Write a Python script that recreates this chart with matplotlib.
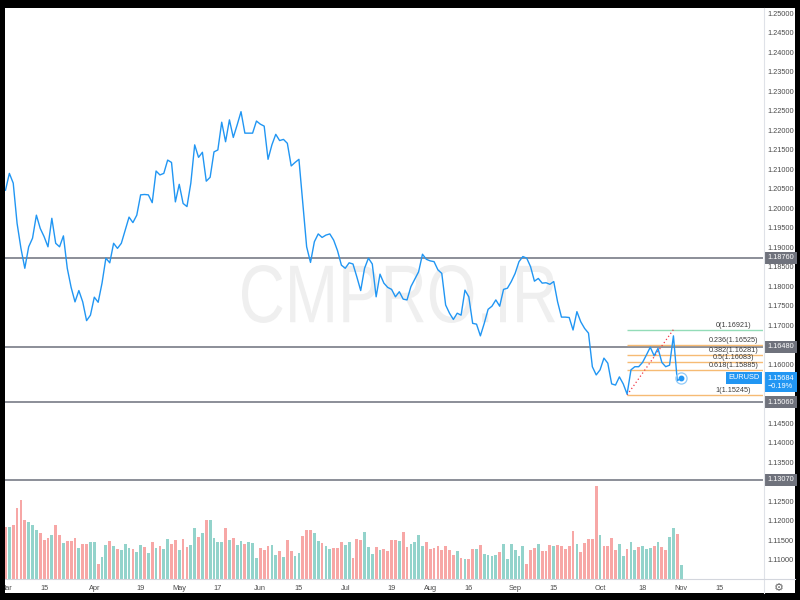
import numpy as np
import pandas as pd
import matplotlib
matplotlib.use('Agg')
import matplotlib.pyplot as plt
from matplotlib.patches import Rectangle, PathPatch
from matplotlib.lines import Line2D
from matplotlib.textpath import TextPath
from matplotlib.font_manager import FontProperties
from matplotlib.transforms import Affine2D, blended_transform_factory

plt.rcParams['font.family'] = ['Liberation Sans', 'DejaVu Sans']

# EURUSD daily closes, one per trading day from 2021-03-01
close = [
    1.2049, 1.2092, 1.2067, 1.1964, 1.1900, 1.1849, 1.1904, 1.1926, 1.1985, 1.1951,
    1.1930, 1.1904, 1.1977, 1.1913, 1.1904, 1.1932, 1.1849, 1.1800, 1.1763, 1.1792,
    1.1763, 1.1715, 1.1729, 1.1775, 1.1762, 1.1811, 1.1875, 1.1863, 1.1913, 1.1900,
    1.1913, 1.1947, 1.1980, 1.1966, 1.1985, 1.2037, 1.2038, 1.2037, 1.2017, 1.2098,
    1.2088, 1.2092, 1.2126, 1.2120, 1.2019, 1.2064, 1.2015, 1.2007, 1.2067, 1.2165,
    1.2133, 1.2146, 1.2072, 1.2082, 1.2147, 1.2152, 1.2223, 1.2173, 1.2229, 1.2184,
    1.2216, 1.2250, 1.2195, 1.2195, 1.2195, 1.2226, 1.2218, 1.2213, 1.2128, 1.2165,
    1.2192, 1.2176, 1.2179, 1.2169, 1.2111, 1.2120, 1.2128, 1.2015, 1.1904, 1.1864,
    1.1917, 1.1937, 1.1928, 1.1934, 1.1937, 1.1921, 1.1894, 1.1857, 1.1849, 1.1863,
    1.1860, 1.1827, 1.1792, 1.1849, 1.1875, 1.1860, 1.1776, 1.1834, 1.1811, 1.1800,
    1.1795, 1.1776, 1.1789, 1.1770, 1.1768, 1.1802, 1.1821, 1.1840, 1.1885, 1.1872,
    1.1868, 1.1866, 1.1845, 1.1836, 1.1755, 1.1734, 1.1718, 1.1734, 1.1729, 1.1793,
    1.1776, 1.1708, 1.1706, 1.1676, 1.1708, 1.1744, 1.1752, 1.1768, 1.1752, 1.1795,
    1.1798, 1.1815, 1.1836, 1.1866, 1.1879, 1.1875, 1.1853, 1.1816, 1.1823, 1.1811,
    1.1812, 1.1808, 1.1815, 1.1763, 1.1724, 1.1724, 1.1723, 1.1691, 1.1738, 1.1712,
    1.1695, 1.1683, 1.1597, 1.1576, 1.1589, 1.1619, 1.1606, 1.1553, 1.1550, 1.1571,
    1.1553, 1.1527, 1.1589, 1.1597, 1.1597, 1.1608, 1.1627, 1.1647, 1.1625, 1.1644,
    1.1608, 1.1597, 1.1601, 1.1676, 1.1561, 1.15684,
]

# tick volume (arbitrary units) and bar direction (u = up, d = down)
volume = [
    155, 157, 163, 213, 236, 178, 170, 163, 148, 138,
    118, 123, 133, 163, 133, 108, 113, 115, 123, 93,
    105, 105, 111, 111, 45, 65, 103, 113, 98, 91,
    88, 106, 93, 91, 81, 101, 96, 78, 111, 93,
    100, 90, 121, 106, 116, 86, 121, 96, 103, 153,
    125, 138, 178, 176, 123, 110, 110, 153, 116, 123,
    101, 115, 106, 110, 108, 63, 93, 88, 100, 103,
    71, 85, 66, 116, 83, 70, 78, 130, 147, 147,
    138, 115, 108, 98, 91, 94, 94, 111, 103, 111,
    63, 121, 118, 141, 95, 75, 96, 88, 91, 83,
    116, 118,
    115, 141, 96, 105, 110, 133, 98, 110, 90, 93,
    100, 86, 100, 86, 73, 83, 63, 61, 61, 90,
    90, 101, 75, 73, 68, 73, 82, 106, 60, 106,
    86, 68, 98, 45, 88, 93, 106, 85, 85, 103,
    98, 103, 98, 91, 98, 143, 106, 81, 108, 121,
    121, 278, 133, 100, 100, 123, 88, 106, 68, 91,
    110, 88, 96, 100, 91, 93, 98, 111, 96, 86,
    125, 153, 136, 41,
]
vol_dir = ("dudddduuud" "dduddudddu" "dduuduudud" "uuuduududu" "duuddudduu"
           "duduuuudud" "uuduuudddu" "ududduuddd" "uuduuddduu" "ddduuududd"
           "dd"
           "udduuuuddd" "dddddududd" "uduuuuduuu" "uuuddduddd" "uddddduddd"
           "ddudddduud" "uuduuududd" "uudu")

dates = pd.bdate_range('2021-03-01', periods=len(close))
axis_days = pd.bdate_range('2021-03-01', '2021-12-31')
tick_dates = ['2021-03-01', '2021-03-15', '2021-04-01', '2021-04-19', '2021-05-03',
              '2021-05-17', '2021-06-01', '2021-06-15', '2021-07-01', '2021-07-19',
              '2021-08-02', '2021-08-16', '2021-09-01', '2021-09-15', '2021-10-01',
              '2021-10-18', '2021-11-01', '2021-11-15']
tick_labels = ['Mar', '15', 'Apr', '19', 'May', '17', 'Jun', '15', 'Jul', '19',
               'Aug', '16', 'Sep', '15', 'Oct', '18', 'Nov', '15']

# horizontal support / resistance lines
h_levels = [1.18760, 1.16480, 1.15060, 1.13070]

# fibonacci retracement from the Oct 12 low to the Oct 28 high
fib_low, fib_high = 1.15245, 1.16921
fib_start, fib_end = '2021-10-12', '2021-10-28'
fib_ratios = [0, 0.236, 0.382, 0.5, 0.618, 1]

symbol = 'EURUSD'
last_price = 1.15684
last_change = '\u22120.19%'

BLUE = '#2196f3'
GREY_BOX = '#6f727c'
TXT = '#4a4a4a'

fig = plt.figure(figsize=(8, 6), dpi=100, facecolor='black')
fig.add_artist(Rectangle((5 / 800, 7 / 600), 790 / 800, 585 / 600,
                         transform=fig.transFigure, facecolor='white',
                         edgecolor='none', zorder=-10))

ax = fig.add_axes([5 / 800, 21 / 600, 758 / 800, 571 / 600])
ax.set_xlim(-0.13, 196.2)
ax.set_ylim(1.10535, 1.25154)
for s in ax.spines.values():
    s.set_visible(False)

# watermark, squeezed to the shape seen in the screenshot
tp = TextPath((0, 0), 'CMPRO.IR', size=100,
              prop=FontProperties(family='Liberation Sans'))
bb = tp.get_extents()
wm_tr = (Affine2D().translate(-bb.x0, -bb.y0)
         .scale(313 / bb.width, 58 / bb.height)
         .translate(242, 277)
         .scale(1 / 800, 1 / 600) + fig.transFigure)
ax.add_patch(PathPatch(tp, transform=wm_tr, facecolor='#efefef',
                       edgecolor='none', zorder=0))

x = np.arange(len(close))

# volume overlay at the bottom of the pane
vax = ax.twinx()
vax.set_ylim(0, 1713)
vax.axis('off')
vcolors = ['#93d3cb' if c == 'u' else '#f7a7a6' for c in vol_dir]
vax.bar(x, volume, width=0.72, color=vcolors, linewidth=0)

for lv in h_levels:
    ax.axhline(lv, color='#787b86', lw=1.2, zorder=1)

# fib levels
i0 = dates.get_loc(pd.Timestamp(fib_start))
i1 = dates.get_loc(pd.Timestamp(fib_end))
xr = ax.get_xlim()[1]
for r in fib_ratios:
    p = fib_high - r * (fib_high - fib_low)
    col = '#93dcb8' if r == 0 else '#f6bb74'
    ax.hlines(p, i0, xr, color=col, lw=1.0, zorder=1.5)
    ax.annotate('%g(%.5f)' % (r, p), xy=(188.5, p), xytext=(0, 0.6),
                textcoords='offset points', ha='center', va='bottom',
                fontsize=5.2, color='#3c3c3c')
ax.plot([i0, i1], [fib_low, fib_high], ls=(0, (1, 2)), color='#f23645', lw=0.9,
        zorder=1.6)

ax.plot(x, close, color=BLUE, lw=1.0, zorder=3)
ax.plot(x[-1], close[-1], 'o', ms=8, mfc='none', mec='#90caf9', mew=0.9, zorder=4)
ax.plot(x[-1], close[-1], 'o', ms=3.2, color=BLUE, zorder=4)

# x axis
ax.set_xticks(axis_days.get_indexer(pd.to_datetime(tick_dates)), tick_labels)
ax.tick_params(axis='x', length=0, pad=4.5, labelsize=5.3, labelcolor=TXT)
ax.set_yticks([])

# price scale on the right
ytr = blended_transform_factory(ax.transAxes, ax.transData)
boxed = h_levels + [last_price]
for p in np.arange(1.11, 1.2501, 0.005):
    if min(abs(p - b) for b in boxed) < 0.002:
        continue
    ax.text(1.0055, p, '%.5f' % p, transform=ytr, ha='left', va='center',
            fontsize=5.3, color=TXT)
for lv in h_levels:
    ax.text(1.0059, lv, '%.5f' % lv, transform=ytr, ha='left', va='center',
            fontsize=5.3, color='white',
            bbox=dict(boxstyle='square,pad=0.35', fc=GREY_BOX, ec='none'))
ax.text(1.0059, last_price - 0.0011, '%.5f\n%s' % (last_price, last_change),
        transform=ytr, ha='left', va='center', fontsize=5.3, color='white',
        linespacing=1.15,
        bbox=dict(boxstyle='square,pad=0.35', fc=BLUE, ec='none'))
ax.text(0.9955, last_price, symbol, transform=ytr, ha='right', va='center',
        fontsize=5.3, color='white',
        bbox=dict(boxstyle='square,pad=0.3', fc=BLUE, ec='none'))

# pane separators and settings icon
fig.add_artist(Line2D([764 / 800, 764 / 800], [7 / 600, 592 / 600],
                      transform=fig.transFigure, color='#dfe2e8', lw=0.8))
fig.add_artist(Line2D([5 / 800, 795 / 800], [21 / 600, 21 / 600],
                      transform=fig.transFigure, color='#d3d6dd', lw=0.8))
fig.text(779 / 800, 12 / 600, '\u2699', family='DejaVu Sans', fontsize=8,
         color='#666666', ha='center', va='center')
fig.add_artist(Rectangle((0, 0), 5 / 800, 1, transform=fig.transFigure,
                         facecolor='black', edgecolor='none', zorder=20))

fig.savefig('out.png', dpi=100, facecolor='black')
